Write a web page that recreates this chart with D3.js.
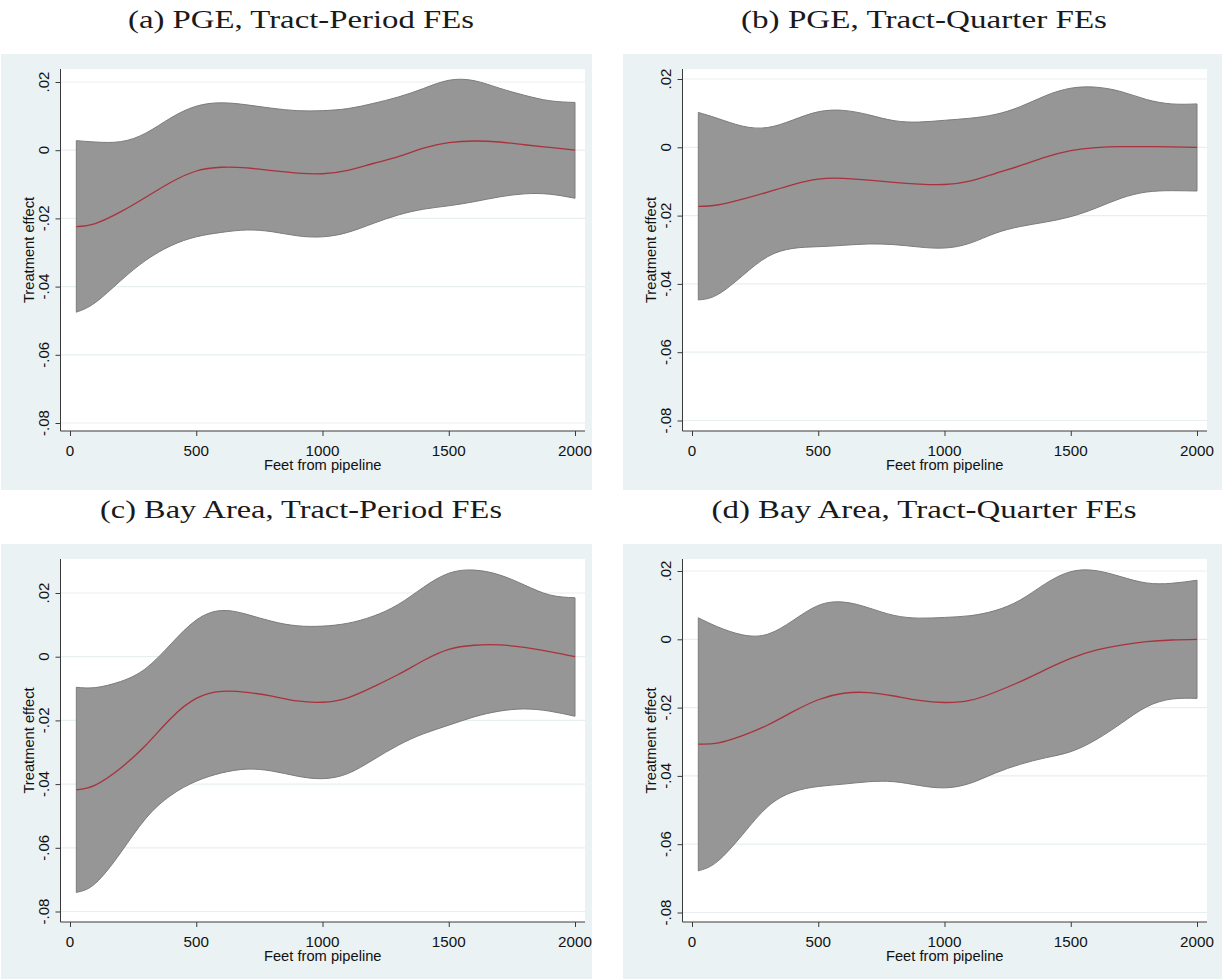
<!DOCTYPE html>
<html>
<head>
<meta charset="utf-8">
<script src="https://cdn.jsdelivr.net/npm/d3@7"></script>
<style>
  body { margin: 0; background: #ffffff; }
  svg text { font-family: "Liberation Sans", Arial, sans-serif; }
</style>
</head>
<body>
<svg id="fig" width="1222" height="979"></svg>
<script>
// Distance from pipeline (feet) at which the effect is evaluated
const feet = [25, 100, 200, 300, 400, 500, 600, 700, 800, 900, 1000,
              1100, 1200, 1300, 1400, 1500, 1600, 1700, 1800, 1900, 2000];

// (a) PGE, tract-period fixed effects
const pgePeriodEst   = [-0.0224, -0.0215, -0.0181, -0.0138, -0.0094, -0.0061, -0.0050, -0.0052, -0.0060, -0.0067, -0.0069,
                        -0.0059, -0.0039, -0.0019, 0.0006, 0.0022, 0.0027, 0.0024, 0.0016, 0.0008, 0.0000];
const pgePeriodUpper = [0.0028, 0.0024, 0.0025, 0.0050, 0.0095, 0.0129, 0.0139, 0.0133, 0.0123, 0.0116, 0.0116,
                        0.0122, 0.0137, 0.0156, 0.0181, 0.0205, 0.0204, 0.0182, 0.0161, 0.0145, 0.0140];
const pgePeriodLower = [-0.0475, -0.0447, -0.0383, -0.0323, -0.0280, -0.0254, -0.0241, -0.0234, -0.0239, -0.0251, -0.0254,
                        -0.0241, -0.0215, -0.0190, -0.0173, -0.0163, -0.0151, -0.0137, -0.0128, -0.0129, -0.0141];

// (b) PGE, tract-quarter fixed effects
const pgeQuarterEst   = [-0.0173, -0.0169, -0.0152, -0.0131, -0.0109, -0.0093, -0.0091, -0.0096, -0.0103, -0.0108, -0.0109,
                         -0.0099, -0.0077, -0.0054, -0.0029, -0.0010, -0.0001, 0.0002, 0.0002, 0.0001, 0.0000];
const pgeQuarterUpper = [0.0102, 0.0085, 0.0062, 0.0058, 0.0080, 0.0104, 0.0108, 0.0095, 0.0078, 0.0074, 0.0079,
                         0.0085, 0.0096, 0.0119, 0.0151, 0.0173, 0.0176, 0.0163, 0.0140, 0.0127, 0.0127];
const pgeQuarterLower = [-0.0447, -0.0432, -0.0376, -0.0320, -0.0296, -0.0291, -0.0287, -0.0283, -0.0285, -0.0292, -0.0295,
                         -0.0281, -0.0252, -0.0232, -0.0219, -0.0203, -0.0178, -0.0149, -0.0131, -0.0127, -0.0128];

// (c) Bay Area, tract-period fixed effects
const bayPeriodEst   = [-0.0418, -0.0403, -0.0350, -0.0278, -0.0193, -0.0131, -0.0109, -0.0112, -0.0124, -0.0139, -0.0143,
                        -0.0129, -0.0095, -0.0056, -0.0012, 0.0023, 0.0036, 0.0037, 0.0029, 0.0016, 0.0000];
const bayPeriodUpper = [-0.0096, -0.0097, -0.0078, -0.0037, 0.0040, 0.0115, 0.0145, 0.0133, 0.0111, 0.0097, 0.0096,
                        0.0105, 0.0127, 0.0164, 0.0218, 0.0262, 0.0272, 0.0257, 0.0225, 0.0194, 0.0185];
const bayPeriodLower = [-0.0740, -0.0712, -0.0616, -0.0508, -0.0435, -0.0391, -0.0365, -0.0353, -0.0359, -0.0375, -0.0383,
                        -0.0367, -0.0324, -0.0278, -0.0242, -0.0215, -0.0189, -0.0171, -0.0164, -0.0171, -0.0187];

// (d) Bay Area, tract-quarter fixed effects
const bayQuarterEst   = [-0.0307, -0.0304, -0.0282, -0.0251, -0.0212, -0.0177, -0.0158, -0.0156, -0.0166, -0.0179, -0.0185,
                         -0.0179, -0.0155, -0.0124, -0.0089, -0.0056, -0.0032, -0.0017, -0.0007, -0.0002, 0.0000];
const bayQuarterUpper = [0.0063, 0.0037, 0.0013, 0.0015, 0.0055, 0.0099, 0.0109, 0.0092, 0.0070, 0.0062, 0.0064,
                         0.0069, 0.0084, 0.0115, 0.0163, 0.0198, 0.0201, 0.0183, 0.0165, 0.0164, 0.0173];
const bayQuarterLower = [-0.0678, -0.0651, -0.0572, -0.0490, -0.0447, -0.0431, -0.0424, -0.0417, -0.0417, -0.0428, -0.0435,
                         -0.0422, -0.0392, -0.0366, -0.0347, -0.0329, -0.0294, -0.0246, -0.0198, -0.0175, -0.0173];

const yTicks = [-0.08, -0.06, -0.04, -0.02, 0, 0.02];
const xTicks = [0, 500, 1000, 1500, 2000];
const yTitle = "Treatment effect";
const xTitle = "Feet from pipeline";

const panelTitles = [
  "(a) PGE, Tract-Period FEs",
  "(b) PGE, Tract-Quarter FEs",
  "(c) Bay Area, Tract-Period FEs",
  "(d) Bay Area, Tract-Quarter FEs"
];

// Stata-style number format: ".02", "-.04", "0"
const fmt = v => {
  if (Math.abs(v) < 1e-9) return "0";
  const s = Math.abs(v).toFixed(2).replace(/^0\./, ".");
  return (v < 0 ? "-" : "") + s;
};

const series = [
  { est: pgePeriodEst,  up: pgePeriodUpper,  lo: pgePeriodLower },
  { est: pgeQuarterEst, up: pgeQuarterUpper, lo: pgeQuarterLower },
  { est: bayPeriodEst,  up: bayPeriodUpper,  lo: bayPeriodLower },
  { est: bayQuarterEst, up: bayQuarterUpper, lo: bayQuarterLower }
];

// Panel geometry
const layout = [
  { bg: [1, 54, 591, 436],   plot: { l: 60.5, r: 585, t: 69, b: 431 },   xr: [70, 575],   yr: [423, 82],     title: [301, 28, 346] },
  { bg: [623, 54, 599, 436], plot: { l: 682.5, r: 1207, t: 69, b: 431 }, xr: [692, 1197], yr: [420.5, 79],   title: [924, 28, 366] },
  { bg: [1, 544, 591, 435],  plot: { l: 60.5, r: 585, t: 559, b: 922 },  xr: [70, 575],   yr: [911.5, 593],  title: [301, 518, 402] },
  { bg: [623, 544, 599, 435],plot: { l: 682.5, r: 1207, t: 559, b: 922 },xr: [692, 1197], yr: [912.5, 571],  title: [924, 518, 425] }
];

const svg = d3.select("#fig");
svg.append("rect").attr("width", 1222).attr("height", 979).attr("fill", "#ffffff");

layout.forEach((L, i) => {
  const S = series[i];
  const g = svg.append("g");

  // graph region background
  g.append("rect")
    .attr("x", L.bg[0]).attr("y", L.bg[1])
    .attr("width", L.bg[2]).attr("height", L.bg[3])
    .attr("fill", "#eaf2f3");

  // plot region
  const P = L.plot;
  g.append("rect")
    .attr("x", P.l).attr("y", P.t)
    .attr("width", P.r - P.l).attr("height", P.b - P.t)
    .attr("fill", "#ffffff");

  const x = d3.scaleLinear().domain([0, 2000]).range(L.xr);
  const y = d3.scaleLinear().domain([-0.08, 0.02]).range(L.yr);

  // horizontal grid lines
  g.append("g").selectAll("line").data(yTicks).join("line")
    .attr("x1", P.l).attr("x2", P.r)
    .attr("y1", d => y(d)).attr("y2", d => y(d))
    .attr("stroke", "#e7eff1").attr("stroke-width", 1.2);

  const rows = feet.map((f, k) => ({ f, est: S.est[k], up: S.up[k], lo: S.lo[k] }));
  const curve = d3.curveNatural;

  // confidence band
  const area = d3.area()
    .x(d => x(d.f)).y0(d => y(d.lo)).y1(d => y(d.up))
    .curve(curve);
  g.append("path")
    .attr("d", area(rows))
    .attr("fill", "#969696")
    .attr("stroke", "#7c7c7c")
    .attr("stroke-width", 1);

  // point estimate
  const line = d3.line().x(d => x(d.f)).y(d => y(d.est)).curve(curve);
  g.append("path")
    .attr("d", line(rows))
    .attr("fill", "none")
    .attr("stroke", "#a8323e")
    .attr("stroke-width", 1.3);

  // y axis
  const yAxis = g.append("g").attr("transform", `translate(${P.l},0)`)
    .call(d3.axisLeft(y).tickValues(yTicks).tickSize(5).tickFormat(""));
  yAxis.select(".domain").attr("d", `M0,${P.t}V${P.b}`).attr("stroke", "#3a3a3a");
  yAxis.selectAll(".tick line").attr("stroke", "#3a3a3a");
  g.append("g").selectAll("text").data(yTicks).join("text")
    .attr("transform", d => `translate(${P.l - 11.5},${y(d)}) rotate(-90)`)
    .attr("text-anchor", "middle")
    .attr("font-size", 15)
    .attr("fill", "#111")
    .text(fmt);

  // x axis
  const xAxis = g.append("g").attr("transform", `translate(0,${P.b})`)
    .call(d3.axisBottom(x).tickValues(xTicks).tickSize(5).tickFormat(""));
  xAxis.select(".domain").attr("d", `M${P.l},0H${P.r}`).attr("stroke", "#3a3a3a");
  xAxis.selectAll(".tick line").attr("stroke", "#3a3a3a");
  g.append("g").selectAll("text").data(xTicks).join("text")
    .attr("x", d => x(d)).attr("y", P.b + 24.5)
    .attr("text-anchor", "middle")
    .attr("font-size", 15.2)
    .attr("fill", "#111")
    .text(d => d);

  // axis titles
  g.append("text")
    .attr("transform", `translate(${P.l - 26.5},${(P.t + P.b) / 2}) rotate(-90)`)
    .attr("text-anchor", "middle")
    .attr("font-size", 14.7)
    .attr("fill", "#111")
    .text(yTitle);
  g.append("text")
    .attr("x", (P.l + P.r) / 2).attr("y", P.b + 38.5)
    .attr("text-anchor", "middle")
    .attr("font-size", 14.7)
    .attr("fill", "#111")
    .text(xTitle);

  // subfigure caption
  svg.append("text")
    .attr("x", L.title[0]).attr("y", L.title[1])
    .attr("text-anchor", "middle")
    .style("font-family", "'Liberation Serif', 'DejaVu Serif', serif")
    .attr("font-size", 25)
    .attr("textLength", L.title[2])
    .attr("lengthAdjust", "spacingAndGlyphs")
    .attr("fill", "#1a1a1a")
    .text(panelTitles[i]);
});
</script>
</body>
</html>
